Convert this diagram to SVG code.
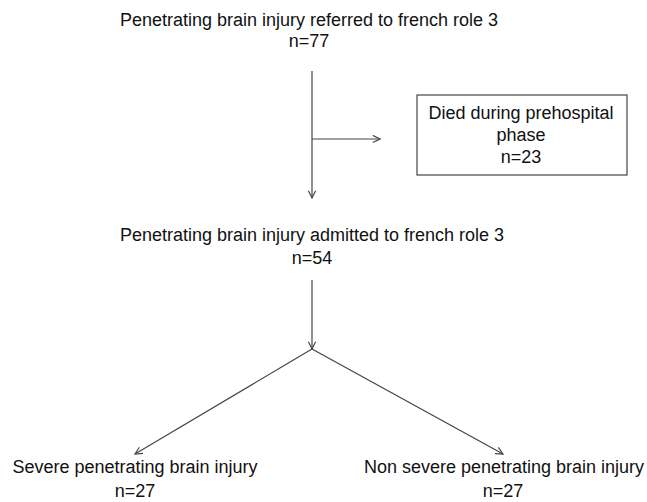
<svg xmlns="http://www.w3.org/2000/svg" width="647" height="502" viewBox="0 0 647 502">
<style>
text{font-family:"Liberation Sans",Arial,sans-serif;font-size:18px;fill:#111;text-anchor:middle}
.c{stroke:#444;stroke-width:1.2;fill:none}
.box{stroke:#444;stroke-width:1.2;fill:#fff}
</style>
<defs>
<marker id="ah" viewBox="0 0 10 10" refX="9" refY="5" markerWidth="9" markerHeight="9" markerUnits="userSpaceOnUse" orient="auto">
<path d="M1,1 L9,5 L1,9" fill="none" stroke="#444" stroke-width="1.3"/>
</marker>
</defs>
<rect width="647" height="502" fill="#fff"/>
<g id="connectors">
<line class="c" x1="312" y1="71" x2="312" y2="198" marker-end="url(#ah)"/>
<line class="c" x1="312" y1="139" x2="380" y2="139" marker-end="url(#ah)"/>
<line class="c" x1="312" y1="280" x2="312" y2="349" marker-end="url(#ah)"/>
<line class="c" x1="312" y1="349" x2="135" y2="454" marker-end="url(#ah)"/>
<line class="c" x1="312" y1="349" x2="503" y2="454" marker-end="url(#ah)"/>
</g>
<g id="referred">
<text x="309" y="26">Penetrating brain injury referred to french role 3</text>
<text x="309" y="47">n=77</text>
</g>
<g id="died">
<rect class="box" x="417" y="95" width="210" height="80"/>
<text x="521" y="119">Died during prehospital</text>
<text x="521" y="141">phase</text>
<text x="521" y="163">n=23</text>
</g>
<g id="admitted">
<text x="312" y="241">Penetrating brain injury admitted to french role 3</text>
<text x="312" y="264">n=54</text>
</g>
<g id="severe">
<text x="135" y="473">Severe penetrating brain injury</text>
<text x="135" y="497">n=27</text>
</g>
<g id="nonsevere">
<text x="504" y="473">Non severe penetrating brain injury</text>
<text x="503" y="497">n=27</text>
</g>
</svg>
